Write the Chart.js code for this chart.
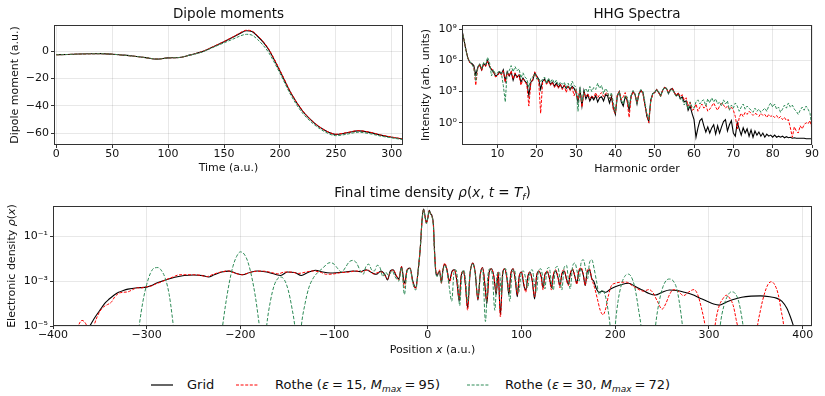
<!DOCTYPE html>
<html>
<head>
<meta charset="utf-8">
<script src="https://cdn.jsdelivr.net/npm/chart.js@4.4.1/dist/chart.umd.min.js"></script>
<style>
body { margin: 0; background: #fff; font-family: "DejaVu Sans", sans-serif; }
#wrap { position: relative; width: 825px; height: 396px; overflow: hidden; }
canvas { position: absolute; }
.ttl { position: absolute; font-size: 13.5px; line-height: 16px; color: #111; text-align: center; white-space: nowrap; }
.axt { position: absolute; font-size: 11px; line-height: 14px; color: #111; text-align: center; white-space: nowrap; }
.lg { position: absolute; top: 376.5px; font-size: 13px; line-height: 15px; color: #111; white-space: nowrap; }
.eq { margin: 0 3px; }
sub { font-size: 9px; vertical-align: -3px; line-height: 0; }
</style>
</head>
<body>
<div id="wrap">
  <canvas id="cDip" width="410" height="180" style="left:0;top:0"></canvas>
  <canvas id="cHhg" width="415" height="180" style="left:410px;top:0"></canvas>
  <canvas id="cDen" width="825" height="180" style="left:0;top:180px"></canvas>

  <div class="ttl" style="left:54px;width:349px;top:5px">Dipole moments</div>
  <div class="ttl" style="left:462px;width:350px;top:5px">HHG Spectra</div>
  <div class="ttl" style="left:53px;width:759px;top:184px">Final time density <i>ρ</i>(<i>x</i>, <i>t</i> = <i>T</i><sub><i>f</i></sub>)</div>
  <div class="axt" style="left:53px;width:759px;top:343px">Position <i>x</i> (a.u.)</div>
  <div class="axt" style="left:-88px;width:200px;top:259px;transform:rotate(-90deg)">Electronic density <i>ρ</i>(<i>x</i>)</div>

  <svg style="position:absolute;left:151px;top:380px" width="22" height="10"><line x1="0" y1="5" x2="22" y2="5" stroke="#000" stroke-width="1.2"/></svg>
  <div class="lg" style="left:187px">Grid</div>
  <svg style="position:absolute;left:236px;top:380px" width="23" height="10"><line x1="0" y1="5" x2="23" y2="5" stroke="#ff0000" stroke-width="1.2" stroke-dasharray="3,1.6"/></svg>
  <div class="lg" style="left:275px">Rothe (<i>ε</i><span class="eq">=</span>15, <i>M</i><sub><i>max</i></sub><span class="eq">=</span>95)</div>
  <svg style="position:absolute;left:467px;top:380px" width="23" height="10"><line x1="0" y1="5" x2="23" y2="5" stroke="#2e8b57" stroke-width="1.2" stroke-dasharray="3,1.6"/></svg>
  <div class="lg" style="left:505px">Rothe (<i>ε</i><span class="eq">=</span>30, <i>M</i><sub><i>max</i></sub><span class="eq">=</span>72)</div>
</div>

<script>
// ---------- dipole moments (a.u.) ----------
var dipoleTime = [0, 10, 20, 30, 40, 50, 60, 70, 80, 90, 100, 110, 120, 130, 140, 150, 160, 165, 170, 175, 180, 185, 190, 200, 210, 220, 230, 240, 250, 260, 270, 280, 290, 300, 310];
var dipoleGrid = [-2.7, -2.5, -2.2, -2.0, -1.9, -2.3, -3.0, -3.8, -4.8, -5.9, -5.0, -4.7, -2.8, -0.6, 3.0, 6.8, 10.9, 13.2, 14.8, 14.2, 10.8, 6.5, 1.0, -14.5, -31, -43.5, -52, -57.8, -60.8, -59.6, -58.2, -59.3, -61.3, -62.8, -64.2];
var dipoleRothe15 = [-2.7, -2.5, -2.2, -2.0, -1.9, -2.3, -3.0, -3.8, -4.8, -5.9, -5.0, -4.7, -2.8, -0.5, 3.1, 7.0, 11.2, 13.6, 15.2, 14.6, 11.2, 6.9, 1.4, -14.0, -30.6, -43.2, -51.8, -57.6, -60.6, -59.4, -58.0, -59.1, -61.2, -62.7, -64.1];
var dipoleRothe30 = [-2.7, -2.5, -2.2, -2.0, -1.9, -2.3, -3.0, -3.8, -4.8, -5.9, -5.0, -4.7, -2.9, -0.8, 2.6, 6.0, 9.4, 11.2, 12.2, 11.6, 8.4, 4.2, -1.2, -16.2, -32.5, -45, -53.2, -58.8, -61.7, -60.6, -59.2, -60.2, -62.0, -63.3, -64.6];
var dipoleXTicks = [0, 50, 100, 150, 200, 250, 300];
var dipoleYTicks = [-60, -40, -20, 0];

// ---------- HHG spectra: log10 intensity at harmonic orders 1, 1.5, ..., 90 ----------
var hhgStart = 1, hhgStep = 0.5;
var hhgGridLog = [
  8.9, 8.0, 7.0, 6.2, 5.8, 5.7, 5.5, 4.6, 5.3, 5.6,
  5.1, 5.7, 5.5, 6.0, 5.4, 5.1, 4.9, 4.5, 4.6, 4.9,
  4.7, 5.1, 4.0, 4.9, 4.5, 4.9, 4.1, 4.7, 4.4, 4.6,
  3.9, 4.3, 4.0, 3.8, 2.6, 3.9, 4.1, 4.8, 4.5, 4.2,
  3.2, 4.0, 4.2, 3.8, 4.1, 3.7, 3.9, 3.5, 3.8, 3.4,
  3.7, 3.3, 3.6, 3.3, 3.5, 3.2, 3.5, 3.3, 2.9, 2.0,
  3.2, 1.6, 3.1, 2.3, 2.7, 2.1, 2.5, 2.2, 2.6, 2.0,
  2.4, 2.5, 2.1, 2.7, 2.6, 1.9, 2.5, 1.4, 0.8, 2.6,
  3.0, 2.0, 1.6, 2.5, 2.2, 1.2, 2.6, 3.0, 2.7, 1.8,
  2.8, 3.1, 2.9, 1.8, 0.6, 0.1, 2.2, 2.8, 2.9, 3.2,
  2.9, 2.6, 3.1, 3.4, 3.3, 2.8, 3.2, 3.3, 2.9, 2.6,
  2.8, 2.3, 2.5, 2.0, 2.1, 1.2, 1.6, 0.9, 0.3, -1.4,
  -0.5, 0.2, 0.4, -0.3, -0.9, -0.4, -1.0, -0.5, -0.2, -1.1,
  -0.3, -1.0, -0.4, 0.1, 0.3, -0.8, -0.2, 0.2, -1.0, -1.3,
  0.0, -0.6, -1.2, -0.5, -1.0, -0.6, -1.3, -0.7, -1.4, -0.8,
  -1.2, -0.9, -1.3, -1.0, -1.4, -1.1, -1.3, -1.2, -1.4, -1.2,
  -1.4, -1.3, -1.4, -1.3, -1.45, -1.35, -1.45, -1.4, -1.5, -1.45,
  -1.5, -1.5, -1.5, -1.5, -1.5, -1.55, -1.55, -1.55, -1.55
];
var hhgRothe15Log = [
  8.9, 8.0, 7.0, 6.2, 5.8, 5.6, 5.4, 3.6, 5.2, 5.6,
  5.0, 5.6, 5.4, 5.9, 5.5, 5.2, 5.0, 4.4, 4.5, 4.8,
  4.6, 5.0, 3.9, 4.8, 4.5, 5.0, 4.2, 4.8, 4.3, 4.6,
  3.6, 4.2, 4.0, 3.6, 1.6, 3.8, 4.2, 4.9, 4.4, 4.0,
  0.9, 3.9, 4.1, 3.7, 4.0, 3.6, 3.9, 3.4, 3.7, 3.3,
  3.7, 3.2, 3.6, 2.9, 3.5, 3.1, 3.4, 2.6, 3.2, 2.2,
  3.1, 1.5, 2.9, 2.5, 2.8, 2.3, 2.6, 2.4, 2.9, 2.4,
  2.7, 2.9, 2.5, 2.8, 2.9, 2.3, 2.7, 1.2, 0.9, 2.7,
  3.0, 2.2, 2.5, 2.9, 2.0, 0.5, 2.4, 3.0, 2.7, 2.0,
  2.8, 3.1, 2.8, 1.7, 0.8, 0.0, 2.0, 2.7, 2.9, 3.2,
  2.9, 2.5, 3.1, 3.4, 3.3, 2.9, 3.2, 3.3, 2.9, 2.6,
  2.9, 2.5, 2.7, 2.2, 2.4, 1.6, 2.0, 1.2, 1.3, 1.8,
  1.1, 1.5, 1.8, 1.4, 1.7, 1.1, 1.3, 1.6, 1.9, 1.5,
  1.2, 1.6, 1.9, 1.7, 1.4, 1.6, 1.3, 1.5, 1.2, 0.6,
  -0.6, 0.5, 0.9, 0.6, 1.0, 0.8, 1.1, 0.9, 0.7, 0.9,
  0.8, 0.6, 0.9, 0.7, 0.8, 0.5, 0.8, 0.6, 0.7, 0.5,
  0.7, 0.4, 0.6, 0.3, 0.5, 0.2, 0.3, -0.5, -1.4, -0.4,
  -0.8, -1.0, -0.3, -0.6, -0.2, 0.0, -0.1, 0.2, -0.6
];
var hhgRothe30Log = [
  8.9, 8.0, 7.0, 6.2, 5.9, 5.6, 5.3, 4.0, 5.4, 5.7,
  5.2, 5.8, 5.6, 6.3, 5.8, 4.5, 5.1, 4.7, 4.8, 5.0,
  4.8, 3.6, 2.0, 4.9, 5.0, 5.5, 4.9, 5.4, 5.0, 5.2,
  4.3, 4.8, 4.4, 4.2, 3.4, 4.3, 4.4, 4.7, 4.2, 4.3,
  3.9, 4.2, 4.4, 3.8, 4.3, 3.9, 4.2, 3.8, 4.1, 3.6,
  3.9, 3.7, 3.9, 3.4, 3.8, 3.3, 4.0, 3.6, 3.4, 1.1,
  3.4, 2.0, 3.0, 3.3, 2.9, 3.5, 3.0, 3.4, 3.2, 3.8,
  3.3, 3.6, 2.8, 3.3, 3.0, 2.3, 2.9, 1.9, 1.0, 2.5,
  3.0, 2.2, 1.8, 2.6, 2.5, 1.5, 2.6, 3.1, 2.8, 1.9,
  2.9, 3.2, 3.0, 2.0, 0.9, 0.3, 2.1, 2.8, 2.9, 3.2,
  3.0, 2.5, 3.1, 3.4, 3.3, 2.8, 3.1, 3.2, 2.8, 2.5,
  2.7, 2.3, 2.3, 1.7, 2.0, 1.3, 2.0, 1.5, 1.4, 2.0,
  2.2, 1.8, 2.1, 2.2, 1.6, 2.3, 1.9, 2.4, 2.0, 2.3,
  1.8, 2.0, 1.6, 2.2, 1.8, 2.1, 1.2, 1.7, 1.4, 1.9,
  1.6, 1.1, 1.5, 1.8, 1.3, 1.6, 1.4, 1.2, 1.0, 1.4,
  1.1, 1.3, 1.0, 1.2, 1.4, 1.1, 1.6, 1.9, 1.5, 1.8,
  1.3, 1.5, 1.0, 1.3, 1.7, 1.4, 1.9, 1.5, 1.7, 1.3,
  1.1, 0.8, 1.2, 1.5, 1.2, 1.6, 1.3, 0.9, -0.5
];
var hhgXTicks = [10, 20, 30, 40, 50, 60, 70, 80, 90];
var hhgYTickExp = [0, 3, 6, 9];

// ---------- final time density: [position x, log10 rho] ----------
var denGrid = [
  [-366, -5.3], [-360, -4.95], [-355, -4.6], [-350, -4.3], [-345, -4.0], [-340, -3.8], [-335, -3.63], [-330, -3.5],
  [-325, -3.42], [-320, -3.36], [-310, -3.3], [-300, -3.27], [-295, -3.2], [-290, -3.1], [-280, -2.95], [-270, -2.83],
  [-260, -2.75], [-250, -2.73], [-240, -2.76], [-234, -2.82], [-228, -2.72], [-220, -2.6], [-212, -2.56], [-205, -2.65],
  [-198, -2.72], [-190, -2.62], [-182, -2.55], [-172, -2.6], [-163, -2.7], [-157, -2.75], [-150, -2.6], [-142, -2.62],
  [-135, -2.75], [-128, -2.62], [-120, -2.52], [-112, -2.6], [-104, -2.64], [-95, -2.62], [-88, -2.6], [-80, -2.55],
  [-72, -2.58], [-66, -2.5], [-60, -2.62], [-55, -2.7], [-50, -2.55], [-46, -2.7], [-43, -2.95], [-40, -2.55],
  [-37, -2.5], [-34, -2.75], [-31, -2.9], [-28, -2.35], [-25, -3.1], [-22, -2.5], [-19, -2.42], [-16, -3.0],
  [-13, -3.3], [-10, -2.4], [-8, -1.5], [-6, -0.2], [-4.5, 0.2], [-3, -0.1], [-1.5, -0.4], [0, -0.2],
  [1.5, 0.15], [3, 0.0], [4.5, -0.1], [6, -0.5], [7, -1.5], [8.5, -2.6], [10, -2.75], [12.5, -2.55],
  [14.5, -3.05], [16, -2.55], [18, -2.25], [20.5, -2.5], [23, -3.0], [26, -2.55], [28.5, -2.5], [31, -3.0],
  [33.5, -3.9], [35.5, -2.8], [38, -2.55], [40, -3.1], [42.5, -4.2], [45, -2.7], [48, -2.2], [50.5, -2.6],
  [53.5, -3.85], [56, -2.7], [58.5, -2.4], [61, -3.2], [63, -4.0], [65.5, -2.6], [68, -2.45], [70.5, -2.8],
  [73, -3.6], [75, -2.6], [77.5, -4.5], [80, -2.6], [82, -2.45], [84.5, -2.9], [86.5, -3.6], [88.5, -2.7],
  [91, -2.45], [93.5, -3.0], [95.5, -3.7], [97.5, -2.8], [100, -2.6], [102.5, -3.2], [104.5, -3.4], [107, -2.75],
  [109, -2.6], [111.5, -3.0], [114, -3.8], [116, -2.8], [118.5, -2.55], [121, -2.8], [123, -3.3], [125, -2.7],
  [127.5, -2.6], [130, -2.9], [132, -3.3], [134, -2.75], [136.5, -2.55], [139, -2.85], [141, -3.2], [143, -2.7],
  [145.5, -2.55], [148, -2.9], [150, -3.15], [152, -2.7], [154.5, -2.5], [157, -2.8], [159, -3.1], [161, -2.6],
  [163.5, -2.45], [166, -2.75], [168, -3.2], [170, -2.6], [172.5, -2.5], [175, -2.9], [177, -3.0], [180, -3.35],
  [183, -3.5], [186, -3.45], [190, -3.5], [195, -3.35], [200, -3.25], [207, -3.15], [214, -3.1], [222, -3.25],
  [229, -3.4], [236, -3.55], [243, -3.62], [250, -3.5], [258, -3.4], [266, -3.42], [274, -3.5], [282, -3.6],
  [290, -3.75], [298, -3.9], [305, -4.02], [311, -4.07], [318, -3.95], [326, -3.82], [335, -3.72], [345, -3.67],
  [355, -3.66], [365, -3.7], [372, -3.76], [378, -3.9], [383, -4.2], [387, -4.6], [391, -5.1], [395, -5.6]
];
var denRothe15 = [
  [-380, -6.5], [-377, -5.6], [-373, -5.0], [-369, -4.75], [-365, -4.9], [-361, -5.3], [-358, -5.2], [-354, -4.7],
  [-350, -4.35], [-346, -4.15], [-342, -4.05], [-338, -3.95], [-334, -3.7], [-330, -3.55], [-325, -3.5], [-320, -3.48],
  [-315, -3.38], [-310, -3.3], [-305, -3.3], [-300, -3.25], [-295, -3.22], [-290, -3.12], [-285, -3.05], [-280, -2.95],
  [-272, -2.82], [-265, -2.72], [-258, -2.72], [-250, -2.72], [-243, -2.74], [-236, -2.8], [-229, -2.7], [-221, -2.6],
  [-213, -2.55], [-205, -2.66], [-198, -2.72], [-190, -2.62], [-183, -2.56], [-175, -2.56], [-167, -2.62], [-160, -2.68],
  [-153, -2.6], [-146, -2.6], [-138, -2.66], [-130, -2.6], [-122, -2.55], [-115, -2.6], [-108, -2.7], [-100, -2.68],
  [-92, -2.62], [-84, -2.6], [-77, -2.55], [-70, -2.58], [-64, -2.5], [-58, -2.68], [-53, -2.62], [-49, -2.6],
  [-46, -2.75], [-43, -2.9], [-40, -2.6], [-37, -2.5], [-34, -2.7], [-31, -2.95], [-28, -2.35], [-25, -3.3],
  [-22, -2.5], [-19, -2.42], [-16, -3.05], [-13, -3.35], [-10, -2.42], [-8, -1.5], [-6, -0.22], [-4.5, 0.18],
  [-3, -0.12], [-1.5, -0.42], [0, -0.2], [1.5, 0.13], [3, -0.02], [4.5, -0.12], [6, -0.55], [7, -1.55],
  [8.5, -2.5], [10, -2.7], [12.5, -2.5], [14.5, -3.1], [16, -2.55], [18, -2.2], [20.5, -2.5], [23, -3.1],
  [26, -2.6], [28.5, -2.5], [31, -3.0], [33.5, -3.8], [35.5, -2.8], [38, -2.55], [40, -3.1], [42.5, -4.3],
  [45, -2.7], [48, -2.2], [50.5, -2.6], [53.5, -3.8], [56, -2.7], [58.5, -2.4], [61, -3.2], [63, -3.9],
  [65.5, -2.6], [68, -2.45], [70.5, -2.8], [73, -3.5], [75, -2.6], [77.5, -4.6], [80, -2.6], [82, -2.45],
  [84.5, -2.9], [86.5, -3.5], [88.5, -2.7], [91, -2.45], [93.5, -3.0], [95.5, -3.6], [97.5, -2.8], [100, -2.6],
  [102.5, -3.1], [104.5, -3.5], [107, -2.75], [109, -2.6], [111.5, -3.0], [114, -3.7], [116, -2.8], [118.5, -2.55],
  [121, -2.85], [123, -3.4], [125, -2.7], [127.5, -2.55], [130, -2.95], [132, -3.4], [134, -2.7], [136.5, -2.5],
  [139, -2.85], [141, -3.3], [143, -2.65], [145.5, -2.5], [148, -2.95], [150, -3.2], [152, -2.65], [154.5, -2.45],
  [157, -2.8], [159, -3.15], [161, -2.55], [163.5, -2.4], [166, -2.7], [168, -3.2], [170, -2.55], [172.5, -2.45],
  [175, -2.9], [178, -3.3], [181, -3.8], [184, -4.3], [187, -4.5], [190, -4.2], [193, -3.6], [196, -3.2],
  [200, -3.1], [206, -3.05], [212, -3.05], [218, -3.2], [224, -3.35], [230, -3.45], [236, -3.38], [240, -3.5],
  [245, -3.9], [250, -4.25], [254, -4.0], [258, -3.6], [262, -3.38], [267, -3.45], [273, -3.65], [278, -3.5],
  [284, -3.38], [288, -3.6], [292, -4.2], [296, -5.0], [298, -5.6], [300, -6.5], [303, -6.5], [305, -5.5],
  [308, -4.6], [311, -4.1], [315, -3.78], [318.5, -3.63], [322, -3.75], [326, -4.1], [329, -4.7], [332, -5.4],
  [334, -6.5], [349, -6.5], [351, -5.3], [355, -4.3], [359, -3.6], [363, -3.15], [366.5, -3.03], [370, -3.15],
  [374, -3.6], [377, -4.3], [380, -5.1], [382, -6.5]
];
var denRothe30 = [
  [-312, -6.5], [-308, -5.0], [-304, -3.9], [-300, -3.15], [-296, -2.65], [-292, -2.42], [-288, -2.4], [-284, -2.55],
  [-280, -2.9], [-276, -3.6], [-273, -4.5], [-270, -5.6], [-268, -6.5], [-224, -6.5], [-220, -5.3], [-216, -4.1],
  [-212, -3.1], [-208, -2.35], [-204, -1.9], [-200, -1.7], [-196, -1.8], [-192, -2.15], [-188, -2.8], [-184, -3.7],
  [-181, -4.6], [-178, -5.6], [-176, -6.5], [-175, -6.5], [-172, -5.0], [-168, -3.9], [-164, -3.2], [-160, -2.88],
  [-157, -2.82], [-153, -2.95], [-149, -3.4], [-145, -4.2], [-142, -5.0], [-139, -6.5], [-138, -6.5], [-135, -5.0],
  [-131, -4.0], [-127, -3.3], [-122, -2.85], [-117, -2.6], [-112, -2.42], [-107, -2.22], [-104, -2.18], [-100, -2.25],
  [-96, -2.45], [-92, -2.6], [-88, -2.4], [-84, -2.15], [-80, -2.08], [-76, -2.2], [-72, -2.55], [-69, -2.7],
  [-66, -2.35], [-63, -2.25], [-60, -2.5], [-57, -2.55], [-54, -2.3], [-51, -2.4], [-48, -2.8], [-45, -2.6],
  [-42, -2.75], [-38, -2.55], [-35, -2.8], [-31, -3.0], [-28, -2.4], [-25, -3.6], [-22, -2.55], [-19, -2.45],
  [-16, -3.1], [-13, -3.4], [-10, -2.45], [-8, -1.5], [-6, -0.25], [-4.5, 0.18], [-3, -0.15], [-1.5, -0.45],
  [0, -0.2], [1.5, 0.12], [3, -0.05], [4.5, -0.15], [6, -0.6], [7, -1.6], [8.5, -2.6], [10, -2.8],
  [12.5, -2.6], [14.5, -3.1], [16, -2.6], [18, -2.3], [20.5, -2.6], [23, -3.3], [25.5, -3.9], [28, -2.6],
  [30, -2.5], [32, -3.0], [34, -4.1], [36, -2.9], [38, -2.5], [40, -2.8], [42.5, -3.9], [45, -2.65],
  [48, -2.25], [50.5, -2.65], [53.5, -3.7], [56, -2.7], [58.5, -2.5], [61.5, -4.8], [64, -2.8], [66.5, -2.45],
  [69, -2.8], [71.5, -4.3], [74, -2.7], [76.5, -2.6], [78.5, -3.6], [80.5, -2.6], [83, -2.45], [85.5, -3.1],
  [87.5, -3.9], [90, -2.6], [92.5, -2.5], [95, -3.3], [97, -3.5], [99.5, -2.7], [102, -2.55], [104.5, -2.9],
  [106.5, -3.3], [109, -2.6], [111.5, -2.5], [114, -3.2], [116, -3.5], [118, -2.6], [120.5, -2.45], [123, -2.9],
  [125, -3.35], [127, -2.5], [129.5, -2.4], [132, -3.1], [134, -3.4], [136, -2.45], [138.5, -2.35], [141, -2.9],
  [143, -3.4], [145.5, -2.4], [148, -2.3], [150, -2.9], [152, -3.35], [154.5, -2.35], [157, -2.2], [159.5, -2.6],
  [161.5, -3.0], [163.5, -2.2], [166, -2.05], [168.5, -2.5], [170.5, -2.9], [172.5, -2.2], [175, -2.05], [177.5, -2.45],
  [180, -3.0], [183, -3.6], [186, -3.4], [189, -3.6], [192, -4.2], [195, -5.2], [197, -6.5], [197.5, -6.5],
  [200, -5.0], [203, -3.9], [207, -3.1], [210, -2.8], [213.5, -2.69], [217, -2.8], [221, -3.3], [225, -4.3],
  [228, -5.2], [230, -6.5], [240, -6.5], [243, -5.0], [247, -3.9], [251, -3.25], [255, -2.95], [258, -2.91],
  [262, -3.0], [266, -3.4], [270, -4.4], [273, -5.5], [275, -6.5], [309, -6.5], [312, -5.0], [316, -4.1],
  [320, -3.65], [324, -3.48], [328, -3.55], [332, -3.95], [335, -4.6], [338, -5.5], [340, -6.5]
];
var denXTicks = [-400, -300, -200, -100, 0, 100, 200, 300, 400];
var denYTickExp = [-5, -3, -1];

// ---------- styling ----------
var GREEN = '#2e8b57';
var RED = '#ff0000';

Chart.defaults.font.family = '"DejaVu Sans", sans-serif';
Chart.defaults.font.size = 11;
Chart.defaults.color = '#111';

var SUP = { '0': '\u2070', '1': '\u00b9', '2': '\u00b2', '3': '\u00b3', '4': '\u2074', '5': '\u2075',
            '6': '\u2076', '7': '\u2077', '8': '\u2078', '9': '\u2079', '-': '\u207b' };

function powLabel(v) {
    var e = Math.round(Math.log10(v));
    return '10' + String(e).split('').map(function (c) { return SUP[c]; }).join('');
}

function numLabel(v) {
    return v < 0 ? '\u2212' + Math.abs(v) : '' + v;
}

// spines on all four sides, like matplotlib
var framePlugin = {
    id: 'frame',
    afterDraw: function (chart) {
        var a = chart.chartArea, c = chart.ctx;
        c.save();
        c.strokeStyle = '#333';
        c.lineWidth = 1;
        c.strokeRect(Math.round(a.left) + 0.5, Math.round(a.top) + 0.5,
                     Math.round(a.right - a.left) - 1, Math.round(a.bottom - a.top) - 1);
        c.restore();
    }
};

function gridOpts() {
    return { color: 'rgba(0,0,0,0.09)', lineWidth: 1, drawTicks: true, tickLength: 3, tickColor: '#333', tickWidth: 1 };
}

function xAxis(min, max, ticks, title, h, padBottom) {
    return {
        type: 'linear', min: min, max: max,
        afterFit: function (s) { s.height = h; },
        afterBuildTicks: function (s) { s.ticks = ticks.map(function (v) { return { value: v }; }); },
        ticks: { padding: 0, maxRotation: 0, autoSkip: false, callback: numLabel },
        grid: gridOpts(),
        border: { display: false },
        title: { display: !!title, text: title || '', font: { size: 11 }, padding: { top: 0, bottom: padBottom } }
    };
}

function yAxis(min, max, ticks, title, w, padTitle, isLog) {
    return {
        type: isLog ? 'logarithmic' : 'linear', min: min, max: max,
        afterFit: function (s) { s.width = w; },
        afterBuildTicks: function (s) { s.ticks = ticks.map(function (v) { return { value: v }; }); },
        ticks: { padding: 2, autoSkip: false, callback: isLog ? powLabel : numLabel },
        grid: gridOpts(),
        border: { display: false },
        title: { display: !!title, text: title || '', font: { size: 11 }, padding: { top: padTitle, bottom: 0 } }
    };
}

function baseOptions(padding, scales, cubic) {
    return {
        responsive: false, animation: false, devicePixelRatio: 1,
        layout: { padding: padding },
        plugins: { legend: { display: false }, tooltip: { enabled: false } },
        elements: { point: { radius: 0 }, line: { borderWidth: 1, tension: 0, cubicInterpolationMode: cubic ? 'monotone' : 'default' } },
        scales: scales
    };
}

function series(label, pts, color, dash, order, width) {
    return { label: label, data: pts, borderColor: color, borderDash: dash || [], borderWidth: width || 1,
             order: order, fill: false };
}

var LBL_GRID = 'Grid';
var LBL_R15 = 'Rothe (\u03b5 = 15, M_max = 95)';
var LBL_R30 = 'Rothe (\u03b5 = 30, M_max = 72)';

// ---------- dipole chart ----------
function pairs(xs, ys) { return xs.map(function (x, i) { return { x: x, y: ys[i] }; }); }

new Chart(document.getElementById('cDip'), {
    type: 'line',
    data: { datasets: [
        series(LBL_GRID, pairs(dipoleTime, dipoleGrid), '#000', null, 3, 1.1),
        series(LBL_R15, pairs(dipoleTime, dipoleRothe15), RED, [3, 1.5], 2),
        series(LBL_R30, pairs(dipoleTime, dipoleRothe30), GREEN, [3, 1.5], 1)
    ] },
    options: baseOptions({ top: 25, right: 7, left: 0, bottom: 0 }, {
        x: xAxis(-2, 310, dipoleXTicks, 'Time (a.u.)', 35, 5),
        y: yAxis(-68.5, 19, dipoleYTicks, 'Dipole moment (a.u.)', 54, 9, false)
    }, true),
    plugins: [framePlugin]
});

// ---------- HHG chart ----------
var hhgOrders = hhgGridLog.map(function (_, i) { return hhgStart + i * hhgStep; });
function logPairs(xs, es) { return xs.map(function (x, i) { return { x: x, y: Math.pow(10, es[i]) }; }); }

new Chart(document.getElementById('cHhg'), {
    type: 'line',
    data: { datasets: [
        series(LBL_GRID, logPairs(hhgOrders, hhgGridLog), '#000', null, 3, 1.1),
        series(LBL_R15, logPairs(hhgOrders, hhgRothe15Log), RED, [3, 1.5], 2),
        series(LBL_R30, logPairs(hhgOrders, hhgRothe30Log), GREEN, [3, 1.5], 1)
    ] },
    options: baseOptions({ top: 25, right: 13, left: 0, bottom: 0 }, {
        x: xAxis(1, 90, hhgXTicks, 'Harmonic order', 35, 4.5),
        y: yAxis(Math.pow(10, -2.15), Math.pow(10, 9.41), hhgYTickExp.map(function (e) { return Math.pow(10, e); }),
                 'Intensity (arb. units)', 52, 10, true)
    }, false),
    plugins: [framePlugin]
});

// ---------- density chart (axis titles are html, for the italic symbols) ----------
function densPairs(arr) { return arr.map(function (p) { return { x: p[0], y: Math.pow(10, p[1]) }; }); }

new Chart(document.getElementById('cDen'), {
    type: 'line',
    data: { datasets: [
        series(LBL_GRID, densPairs(denGrid), '#000', null, 3, 1.1),
        series(LBL_R15, densPairs(denRothe15), RED, [3, 1.5], 2),
        series(LBL_R30, densPairs(denRothe30), GREEN, [3.5, 1.8], 1)
    ] },
    options: baseOptions({ top: 26, right: 13, left: 0, bottom: 0 }, {
        x: xAxis(-400, 410, denXTicks, null, 34, 0),
        y: yAxis(1e-5, Math.pow(10, 0.34), denYTickExp.map(function (e) { return Math.pow(10, e); }),
                 null, 53, 0, true)
    }, true),
    plugins: [framePlugin]
});
</script>
</body>
</html>
